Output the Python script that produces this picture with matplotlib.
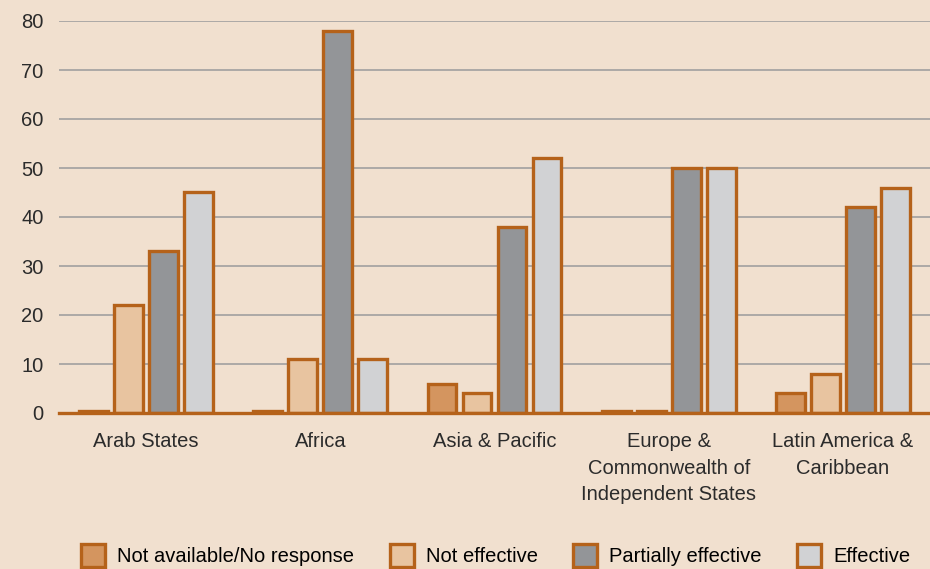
import matplotlib.pyplot as plt
import numpy as np

plt.rcParams['font.family'] = ['Liberation Sans', 'DejaVu Sans']

regions = ["Arab States", "Africa", "Asia & Pacific",
           "Europe &\nCommonwealth of\nIndependent States",
           "Latin America &\nCaribbean"]
series = ["Not available/No response", "Not effective",
          "Partially effective", "Effective"]
not_available = [0.5, 0.5, 6, 0.5, 4]
not_effective = [22, 11, 4, 0.5, 8]
partially_effective = [33, 78, 38, 50, 42]
effective = [45, 11, 52, 50, 46]

values = [not_available, not_effective, partially_effective, effective]
colors = ["#D4955F", "#E8C4A0", "#939598", "#D1D2D4"]
edge = "#B5621A"
bg = "#F1E0CF"

fig = plt.figure(figsize=(9.3, 5.69), dpi=100, facecolor=bg)
ax = fig.add_axes([59 / 930, (569 - 413) / 569, 871 / 930, 392 / 569])
ax.set_facecolor(bg)

x = np.arange(len(regions))
pitch = 0.201
width = 0.165
for i, (vals, col, name) in enumerate(zip(values, colors, series)):
    ax.bar(x + (i - 1.5) * pitch, vals, width, color=col, edgecolor=edge,
           linewidth=2.4, label=name, zorder=3)

ax.set_xlim(-0.5, 4.5)
ax.set_ylim(0, 80)
ax.set_yticks(range(0, 81, 10))
ax.yaxis.grid(True, color="#A7A5A3", linewidth=1.3, zorder=0)
ax.set_axisbelow(True)
for s in ["top", "right", "left"]:
    ax.spines[s].set_visible(False)
ax.spines["bottom"].set_color(edge)
ax.spines["bottom"].set_linewidth(2.4)
ax.spines["bottom"].set_zorder(4)
ax.tick_params(axis="both", length=0, labelsize=14.5, colors="#2B2B2B")
ax.tick_params(axis="y", pad=11)
ax.tick_params(axis="x", pad=14)
ax.set_xticks(x)
ax.set_xticklabels(regions, linespacing=1.5)

fig.legend(loc="center", bbox_to_anchor=(0.533, 0.024), ncol=4,
           frameon=False, handlelength=1.2, handleheight=1.35,
           columnspacing=1.75, handletextpad=0.6,
           prop={"size": 14.5})

fig.savefig("out.png", dpi=100, facecolor=bg)
